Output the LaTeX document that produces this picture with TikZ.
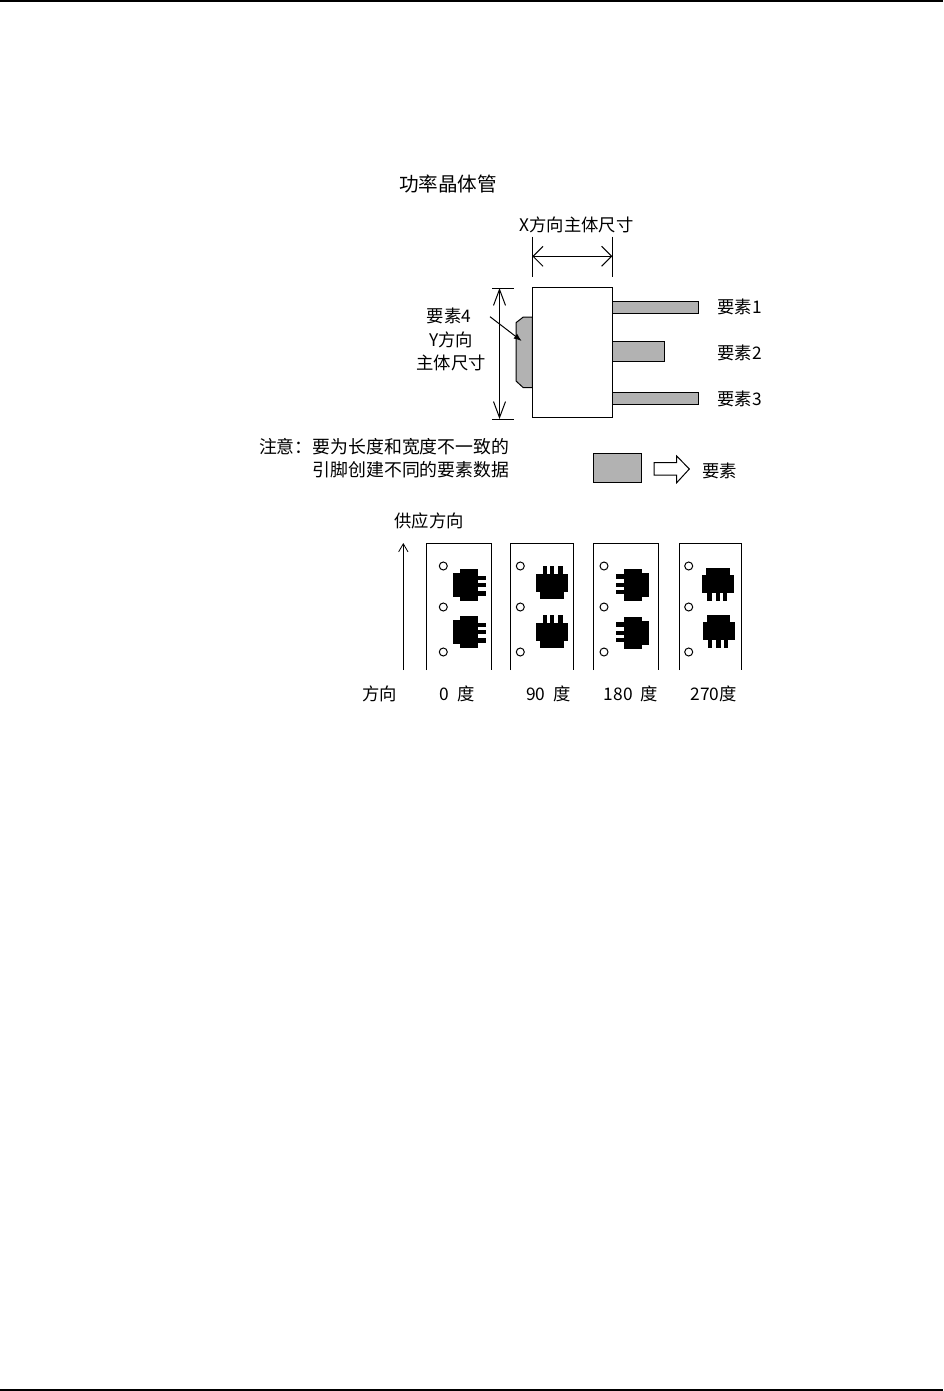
\documentclass[tikz,border=0pt]{standalone}
\usepackage{fontspec}
\setmainfont{Noto Sans CJK SC}
\usetikzlibrary{arrows.meta}
\tikzset{
  lbl/.style={inner sep=0pt,font=\fontsize{13}{15}\selectfont},
  notelbl/.style={lbl,anchor=east,font=\fontsize{13.4}{15}\selectfont},
  title/.style={inner sep=0pt,font=\fontsize{14.7}{16}\selectfont},
  partfill/.style={draw=black,fill=black!30,line width=0.75pt},
  bodybox/.style={draw=black,fill=white,line width=0.75pt,inner sep=0pt,
    minimum width=60pt,minimum height=97.5pt},
  leadbox/.style={partfill,inner sep=0pt,anchor=west},
  dimline/.style={line width=0.75pt},
  xarrow/.style={line width=0.75pt,{Straight Barb[length=7.5pt,width=15pt]}-{Straight Barb[length=7.5pt,width=15pt]}},
  yarrow/.style={line width=0.75pt,{Straight Barb[length=12pt,width=9pt]}-{Straight Barb[length=12pt,width=9pt]}},
  hole/.style={circle,draw=black,line width=0.75pt,inner sep=0pt,minimum size=6pt},
  chip/.pic={
    \fill[black] (-12.5,-11.7) rectangle (-5.5,11.7);
    \fill[black] (-5.5,-16) rectangle (12.5,16);
    \foreach \leady in {-7.2,0,8.4}
      \fill[black] (12.5,\leady-2.2) rectangle (20.5,\leady+2.2);
  }
}
\begin{document}
\begin{tikzpicture}[x=0.75pt,y=-0.75pt]
\useasboundingbox (0,0) rectangle (943,1391);

% page rules
\coordinate (ruleTL) at (0,1);
\coordinate (ruleTR) at (943,1);
\coordinate (ruleBL) at (0,1389.5);
\coordinate (ruleBR) at (943,1389.5);
\draw[line width=1.5pt] (ruleTL) -- (ruleTR);
\draw[line width=1.5pt] (ruleBL) -- (ruleBR);

\node[title] (titleText) at (448,184) {功率晶体管};

% transistor
\node[leadbox,minimum width=64.5pt,minimum height=9pt] (lead1) at (612.3,307.3) {};
\node[leadbox,minimum width=39pt,minimum height=15pt] (lead2) at (612.3,351.3) {};
\node[leadbox,minimum width=64.5pt,minimum height=9pt] (lead3) at (612.3,398.3) {};
\draw[partfill] (532.3,317) -- (523.3,317) -- (516,322.7) -- (516,381)
  -- (523.3,387.7) -- (532.3,387.7) -- cycle;
\node[bodybox] (body) at (572.3,352.3) {};

\node[lbl] (xdimText) at (576.5,225) {X方向主体尺寸};
\node[lbl] (elem1) at (739.5,307) {要素1};
\node[lbl] (elem2) at (739.5,353) {要素2};
\node[lbl] (elem3) at (739.5,399) {要素3};
\node[lbl] (elem4) at (449,316) {要素4};
\node[lbl] (ydimText1) at (451,340) {Y方向};
\node[lbl] (ydimText2) at (451,363) {主体尺寸};

% x dimension
\coordinate (xa) at (532.3,236.7);
\coordinate (xb) at (532.3,276.7);
\coordinate (xc) at (612.3,236.7);
\coordinate (xd) at (612.3,276.7);
\coordinate (xl) at (532.3,256.3);
\coordinate (xr) at (612.3,256.3);
\draw[dimline] (xa) -- (xb);
\draw[dimline] (xc) -- (xd);
\draw[xarrow] (xl) -- (xr);

% y dimension
\coordinate (ya) at (492,288);
\coordinate (yb) at (513.7,288);
\coordinate (yc) at (492,419);
\coordinate (yd) at (513.7,419);
\coordinate (yt) at (499.5,288);
\coordinate (yu) at (499.5,419);
\draw[dimline] (ya) -- (yb);
\draw[dimline] (yc) -- (yd);
\draw[yarrow] (yt) -- (yu);

\coordinate (tabStart) at (490,316.7);
\coordinate (tabEnd) at (521.7,341);
\draw[line width=0.75pt,-{Latex[length=6pt,width=4.5pt]}] (tabStart) -- (tabEnd);

% note
\node[notelbl] (note1) at (509.5,447) {注意：要为长度和宽度不一致的};
\node[notelbl] (note2) at (509.5,470) {引脚创建不同的要素数据};

\node[partfill,inner sep=0pt,minimum width=36.3pt,minimum height=21.75pt] (sample) at (617.5,467.8) {};
\draw[line width=0.75pt] (654,462.7) -- (676.7,462.7) -- (676.7,456) -- (689.3,469)
  -- (676.7,482.7) -- (676.7,475) -- (654,475) -- cycle;
\node[lbl] (sampleText) at (719.5,471) {要素};

% feed
\node[lbl] (feedText) at (429,521) {供应方向};
\coordinate (feedA) at (403.3,670);
\coordinate (feedB) at (403.3,543);
\draw[line width=0.6pt,-{Straight Barb[length=6pt,width=7pt]}] (feedA) -- (feedB);

% tapes
\foreach \tapeName/\xl/\xr/\xh in {A/426.7/491.3/443.3,B/510.3/573.7/520.3,C/593.3/658.3/604,D/679.3/741.7/688.7}{
  \draw[line width=0.75pt] (\xl,670) -- (\xl,543.3) -- (\xr,543.3) -- (\xr,670);
  \node[hole] (hole\tapeName1) at (\xh,566) {};
  \node[hole] (hole\tapeName2) at (\xh,607) {};
  \node[hole] (hole\tapeName3) at (\xh,652) {};
}

\pic at (465.5,585) {chip};
\pic at (465.5,632) {chip};
\pic[rotate=90] at (552,586.8) {chip};
\pic[rotate=90] at (552,635.8) {chip};
\pic[rotate=180] at (636.5,585) {chip};
\pic[rotate=180] at (636.5,633) {chip};
\pic[rotate=270] at (718,580.5) {chip};
\pic[rotate=270] at (718.5,627.5) {chip};

\node[lbl] (orientText) at (379.5,694) {方向};
\node[lbl] (deg0) at (457,694) {0\hspace{6pt}度};
\node[lbl] (deg90) at (548.5,694) {90\hspace{6pt}度};
\node[lbl] (deg180) at (631,694) {180\hspace{6pt}度};
\node[lbl] (deg270) at (713.5,694) {270度};

\end{tikzpicture}
\end{document}
